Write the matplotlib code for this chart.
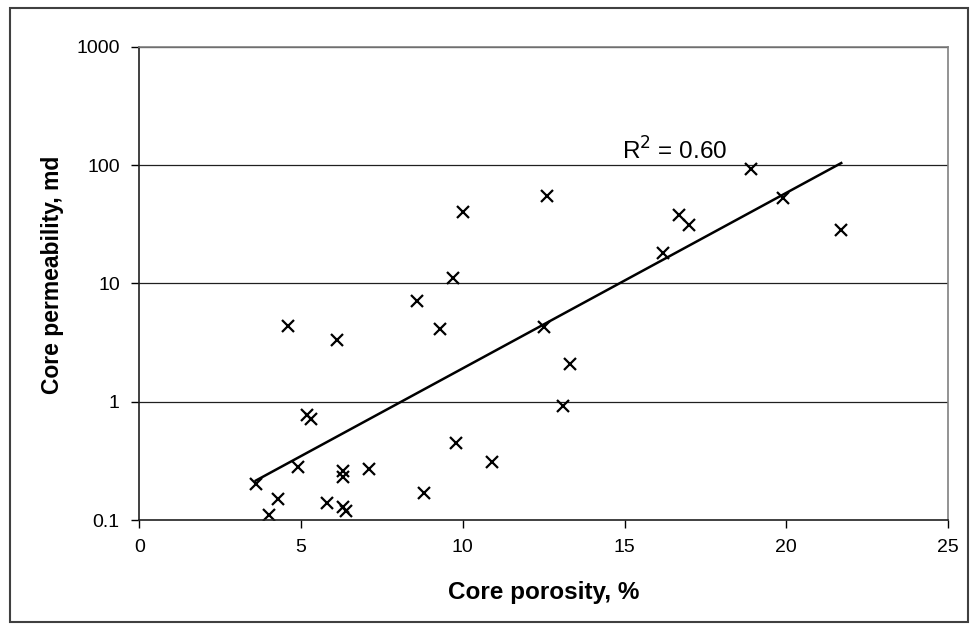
import numpy as np
import matplotlib
matplotlib.use("Agg")
import matplotlib.pyplot as plt
from matplotlib.patches import Rectangle
from matplotlib.ticker import FixedLocator, FixedFormatter, NullLocator

# core data
porosity = [3.6, 4.0, 4.3, 4.6, 4.9, 5.2, 5.3, 5.8, 6.1, 6.3, 6.3, 6.3, 6.4,
             7.1, 8.6, 8.8, 9.3, 9.7, 9.8, 10.0, 10.9, 12.5, 12.6, 13.1, 13.3,
             16.2, 16.7, 17.0, 18.9, 19.9, 21.7]
permeability = [0.20, 0.11, 0.15, 4.4, 0.28, 0.77, 0.72, 0.14, 3.3, 0.26, 0.23,
                0.13, 0.12, 0.27, 7.1, 0.17, 4.1, 11.0, 0.45, 40.0, 0.31, 4.3,
                55.0, 0.92, 2.1, 18.0, 38.0, 31.0, 92.0, 53.0, 28.0]
r2_label = "R$^2$ = 0.60"
y_ticks = [0.1, 1, 10, 100, 1000]
y_tick_labels = ["0.1", "1", "10", "100", "1000"]
x_ticks = [0, 5, 10, 15, 20, 25]

plt.rcParams['font.family'] = ['Liberation Sans', 'DejaVu Sans']

fig = plt.figure(figsize=(9.76, 6.31), dpi=100)
# outer chart border
fig.patches.append(Rectangle((0.0102, 0.0135), 0.9816, 0.9735, transform=fig.transFigure,
                             fill=False, edgecolor='#404040', linewidth=1.5))
ax = fig.add_axes([0.1427, 0.1759, 0.8286, 0.7501])

x = np.array(porosity)
y = np.array(permeability)

# exponential trendline (Excel style)
b, a = np.polyfit(x, np.log10(y), 1)
xt = np.array([x.min(), x.max()])
ax.plot(xt, 10 ** (a + b * xt), color='black', linewidth=1.8)

ax.plot(x, y, 'x', color='black', markersize=9, markeredgewidth=1.6)

ax.set_yscale('log')
ax.set_ylim(0.1, 1000)
ax.set_xlim(0, 25)
ax.yaxis.set_major_locator(FixedLocator(y_ticks))
ax.yaxis.set_major_formatter(FixedFormatter(y_tick_labels))
ax.yaxis.set_minor_locator(NullLocator())
ax.set_xticks(x_ticks)
ax.set_xticklabels([str(v) for v in x_ticks])

for v in y_ticks[1:]:
    ax.axhline(v, color='#202020', linewidth=0.9, zorder=0)

for s in ['top', 'right']:
    ax.spines[s].set_color('#808080')
    ax.spines[s].set_linewidth(1.2)
for s in ['left', 'bottom']:
    ax.spines[s].set_color('#202020')
    ax.spines[s].set_linewidth(1.2)

ax.tick_params(axis='both', direction='out', length=6, width=1.0, labelsize=14)
ax.tick_params(axis='x', pad=8)
ax.tick_params(axis='y', pad=8)

ax.set_xlabel("Core porosity, %", fontsize=17.5, fontweight='bold')
ax.set_ylabel("Core permeability, md", fontsize=16.5, fontweight='bold')
ax.xaxis.set_label_coords(0.5, -0.129)
ax.yaxis.set_label_coords(-0.093, 0.518)

ax.text(14.91, 112, r2_label, fontsize=17.5, ha='left', va='baseline')

fig.savefig("out.png", dpi=100)
